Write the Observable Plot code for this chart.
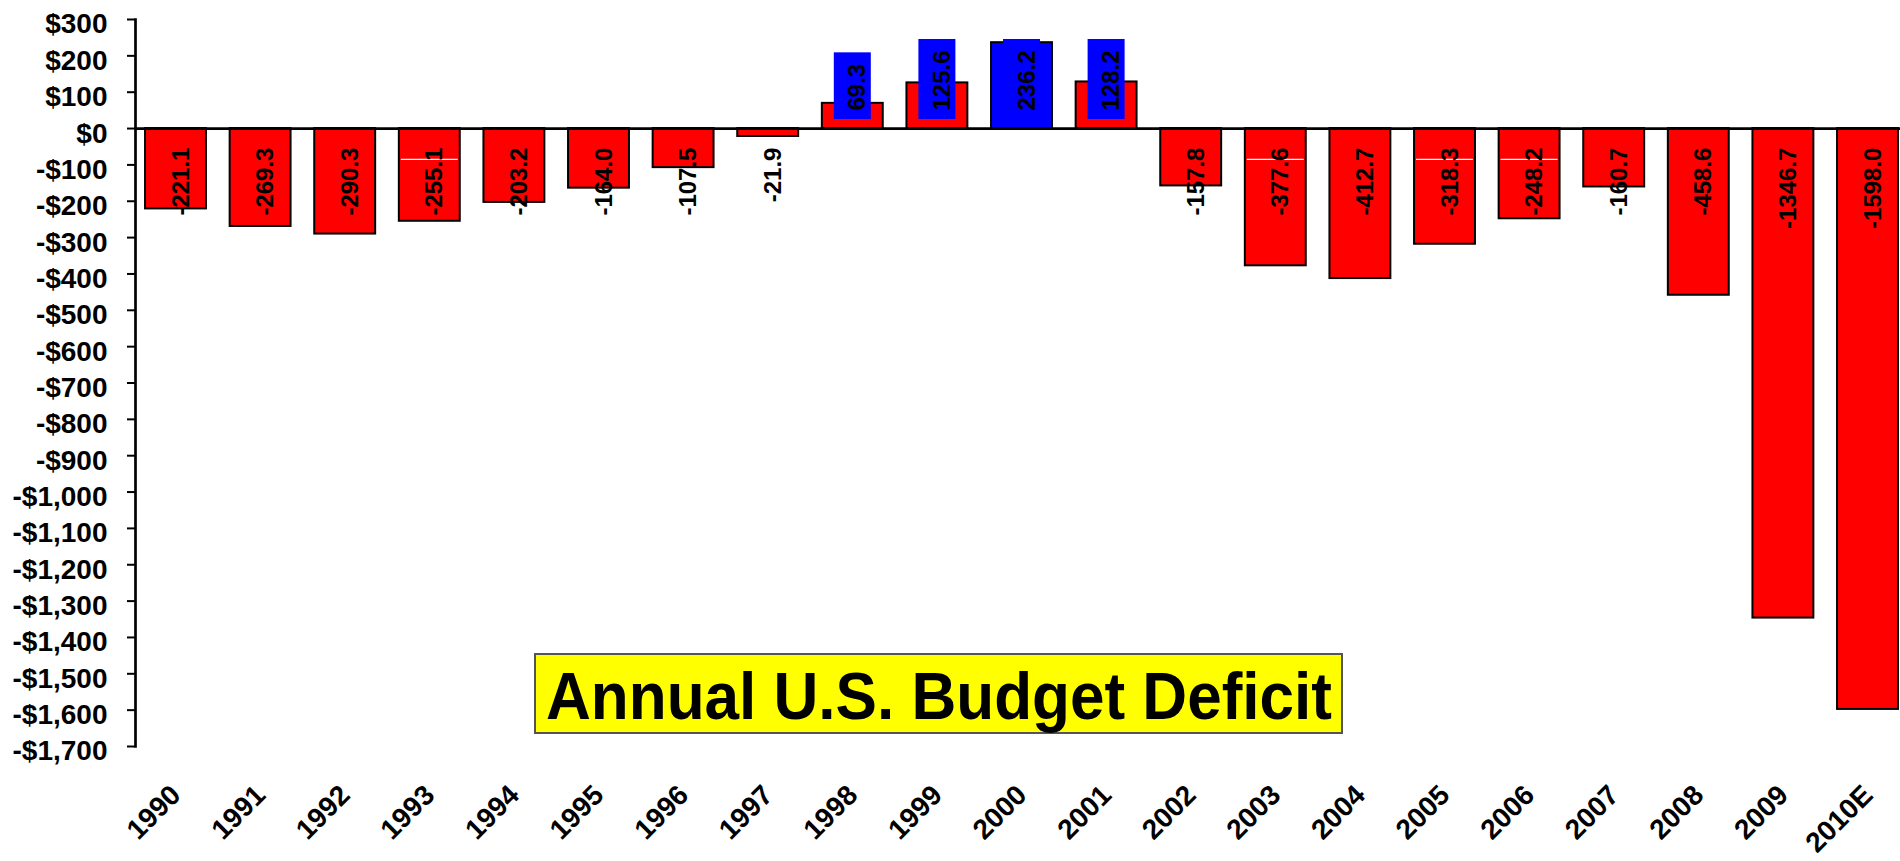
<!DOCTYPE html>
<html><head><meta charset="utf-8">
<script src="https://cdn.jsdelivr.net/npm/d3@7"></script>
<script src="https://cdn.jsdelivr.net/npm/@observablehq/plot@0.6"></script>
<style>
html,body{margin:0;padding:0;background:#fff;}
#wrap{position:relative;width:1900px;height:861px;overflow:hidden;}
#title{position:absolute;left:534px;top:653px;width:809px;height:81px;box-sizing:border-box;border:2px solid #555;background:#ffff00;font-family:"Liberation Sans",Arial,sans-serif;font-weight:bold;font-size:66px;color:#000;white-space:nowrap;}
#title span{position:absolute;left:50%;top:6px;line-height:71px;transform:translateX(-50%) scaleX(0.94);}
</style></head><body>
<div id="wrap"><div id="title"><span>Annual U.S. Budget Deficit</span></div></div>
<script>
// ---- data ----
const years = ["1990","1991","1992","1993","1994","1995","1996","1997","1998","1999","2000",
               "2001","2002","2003","2004","2005","2006","2007","2008","2009","2010E"];
const deficits = [-221.1,-269.3,-290.3,-255.1,-203.2,-164.0,-107.5,-21.9,69.3,125.6,236.2,
                  128.2,-157.8,-377.6,-412.7,-318.3,-248.2,-160.7,-458.6,-1346.7,-1598.0];
const yTicks = [300,200,100,0,-100,-200,-300,-400,-500,-600,-700,-800,-900,-1000,
                -1100,-1200,-1300,-1400,-1500,-1600,-1700];
const highlightYear = "2000";
const glitchYears = ["1993","2003","2005","2006"];
const glitchLevel = -85;

// ---- build ----
const data = years.map((year, i) => ({year, value: deficits[i]}));
const pos = data.filter(d => d.value > 0);
const neg = data.filter(d => d.value < 0);
const glitch = glitchYears.map(year => ({year}));
const fmt = v => v.toFixed(1);
const money = v => (v < 0 ? "-" : "") + "$" + d3.format(",")(Math.abs(v));
const font = '"Liberation Sans", Arial, sans-serif';
const labelSize = 24;
const posOffset = 18, negOffset = 19;

const ctx = document.createElement("canvas").getContext("2d");
ctx.font = `bold ${labelSize}px ${font}`;

function labelBoxes(index, scales) {
  const sx = scales.x, sy = scales.y;
  const bw = typeof sx.bandwidth === "function" ? sx.bandwidth() : sx.bandwidth;
  const g = d3.create("svg:g");
  const y0 = sy(0);
  for (const d of pos) {
    const cx = sx(d.year) + bw / 2;
    const len = ctx.measureText(fmt(d.value)).width;
    g.append("rect")
      .attr("x", cx - 18.5).attr("width", 37)
      .attr("y", y0 - posOffset - len - 11).attr("height", len + 20)
      .attr("fill", "#0000ff");
  }
  return g.node();
}

const chart = Plot.plot({
  width: 1900, height: 861,
  marginTop: 19, marginBottom: 115, marginLeft: 135, marginRight: 0,
  style: {fontFamily: font, background: "#fff", color: "#000"},
  x: {domain: years, range: [133.2, 1909.8], paddingInner: 0.28, paddingOuter: 0.14, round: false, axis: null},
  y: {domain: [-1700, 300]},
  marks: [
    Plot.barY(data, {x: "year", y: "value",
      fill: d => d.year === highlightYear ? "#0000ff" : "#ff0000",
      stroke: "#000", strokeWidth: 2}),
    Plot.tickY(glitch, {x: "year", y: glitchLevel, stroke: "#fff", strokeWidth: 1.3, inset: 2}),
    labelBoxes,
    Plot.ruleY([0], {stroke: "#000", strokeWidth: 2.7}),
    Plot.frame({anchor: "left", stroke: "#000", strokeWidth: 2.7}),
    Plot.axisY({ticks: yTicks, tickSize: 8, fill: "none", stroke: "#000", strokeWidth: 2, label: null, tickFormat: money}),
    Plot.axisY({ticks: yTicks, tickSize: 0, tickPadding: 28, dy: 5, label: null, tickFormat: money,
      fill: "#000", fontSize: 28, fontWeight: "bold"}),
    Plot.text(neg, {x: "year", y: 0, text: d => fmt(d.value), rotate: -90, textAnchor: "end",
      lineAnchor: "middle", dy: negOffset, dx: 5, fontSize: labelSize, fontWeight: "bold", fill: "#000"}),
    Plot.text(pos, {x: "year", y: 0, text: d => fmt(d.value), rotate: -90, textAnchor: "start",
      lineAnchor: "middle", dy: -posOffset, dx: 5, fontSize: labelSize, fontWeight: "bold", fill: "#000"}),
    Plot.text(data, {x: "year", frameAnchor: "bottom", text: "year", rotate: -45, textAnchor: "end",
      lineAnchor: "middle", dy: 44, fontSize: 28, fontWeight: "bold", fill: "#000"})
  ]
});
document.getElementById("wrap").insertBefore(chart, document.getElementById("title"));
</script>
</body></html>
